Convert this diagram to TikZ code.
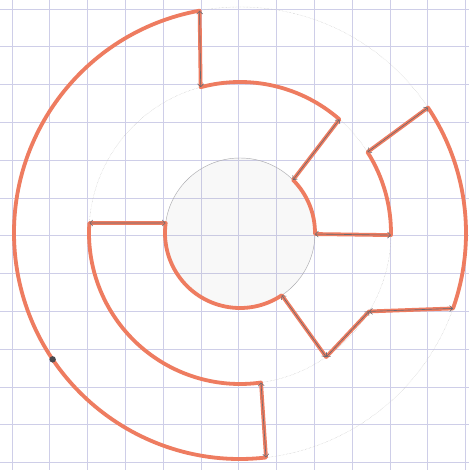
\documentclass[tikz,border=0pt]{standalone}
\usetikzlibrary{arrows.meta}
\definecolor{gridc}{RGB}{206,206,232}
\definecolor{redp}{RGB}{238,124,96}
\definecolor{pencil}{RGB}{105,105,112}
\begin{document}
\begin{tikzpicture}[x=1pt,y=1pt,
  gridline/.style={gridc, line width=0.8pt},
  guide/.style={pencil!55, line width=0.45pt},
  faint/.style={gray!50, line width=0.4pt, densely dotted},
  redline/.style={redp, line width=3.8pt, line join=round, line cap=round},
  dimline/.style={pencil, line width=0.6pt, {Straight Barb[length=3pt,width=6pt]}-{Straight Barb[length=3pt,width=6pt]}}]
\useasboundingbox (0,0) rectangle (469,470);
\fill[white] (0,0) rectangle (469,470);
\foreach \k in {0,...,12} {
  \draw[gridline] ({12+37.8*\k},0) -- ({12+37.8*\k},470);
  \draw[gridline] (0,{461-37.8*\k}) -- (469,{461-37.8*\k});
}
\coordinate (C) at (240,237);
\fill[gray, opacity=0.05] (C) circle[radius=75pt];
\draw[guide] (C) circle[radius=75pt];
\draw[faint] (C) circle[radius=151pt];
\draw[faint] (C) circle[radius=226pt];
% vertices
\coordinate (P1) at ([shift={(100.3:226pt)}]C);
\coordinate (P2) at ([shift={(105.1:151pt)}]C);
\coordinate (P3) at ([shift={(48.8:151pt)}]C);
\coordinate (P4) at ([shift={(45:75pt)}]C);
\coordinate (P5) at ([shift={(-0.8:75pt)}]C);
\coordinate (P6) at ([shift={(-0.8:151pt)}]C);
\coordinate (P7) at ([shift={(32.4:151pt)}]C);
\coordinate (P8) at ([shift={(33.7:226pt)}]C);
\coordinate (P9) at ([shift={(-19.5:226pt)}]C);
\coordinate (P10) at ([shift={(-31.3:151pt)}]C);
\coordinate (P11) at ([shift={(-55.2:151pt)}]C);
\coordinate (P12) at ([shift={(-56.1:75pt)}]C);
\coordinate (P13) at ([shift={(172.3:75pt)}]C);
\coordinate (P14) at ([shift={(176.2:151pt)}]C);
\coordinate (P15) at ([shift={(278:151pt)}]C);
\coordinate (P16) at ([shift={(-83.4:226pt)}]C);
\coordinate (D) at ([shift={(-146:226pt)}]C);
% red outline
\draw[redline] (P1) -- (P2)
  arc[start angle=105.1, end angle=48.8, radius=151pt] -- (P4)
  arc[start angle=45, end angle=-0.8, radius=75pt] -- (P6)
  arc[start angle=-0.8, end angle=32.4, radius=151pt] -- (P8)
  arc[start angle=33.7, end angle=-19.5, radius=226pt] -- (P10) -- (P11) -- (P12)
  arc[start angle=-56.1, end angle=-187.7, radius=75pt] -- (P14)
  arc[start angle=176.2, end angle=278, radius=151pt] -- (P16)
  arc[start angle=-83.4, end angle=-259.7, radius=226pt] -- cycle;
% pencil double arrows
\draw[dimline] (P1) -- (P2);
\draw[dimline] (P3) -- (P4);
\draw[dimline] (P5) -- (P6);
\draw[dimline] (P7) -- (P8);
\draw[dimline] (P9) -- (P10);
\draw[dimline] (P10) -- (P11);
\draw[dimline] (P11) -- (P12);
\draw[dimline] (P13) -- (P14);
\draw[dimline] (P15) -- (P16);
\fill[pencil!70!black] (D) circle[radius=3.2pt];
\end{tikzpicture}
\end{document}
